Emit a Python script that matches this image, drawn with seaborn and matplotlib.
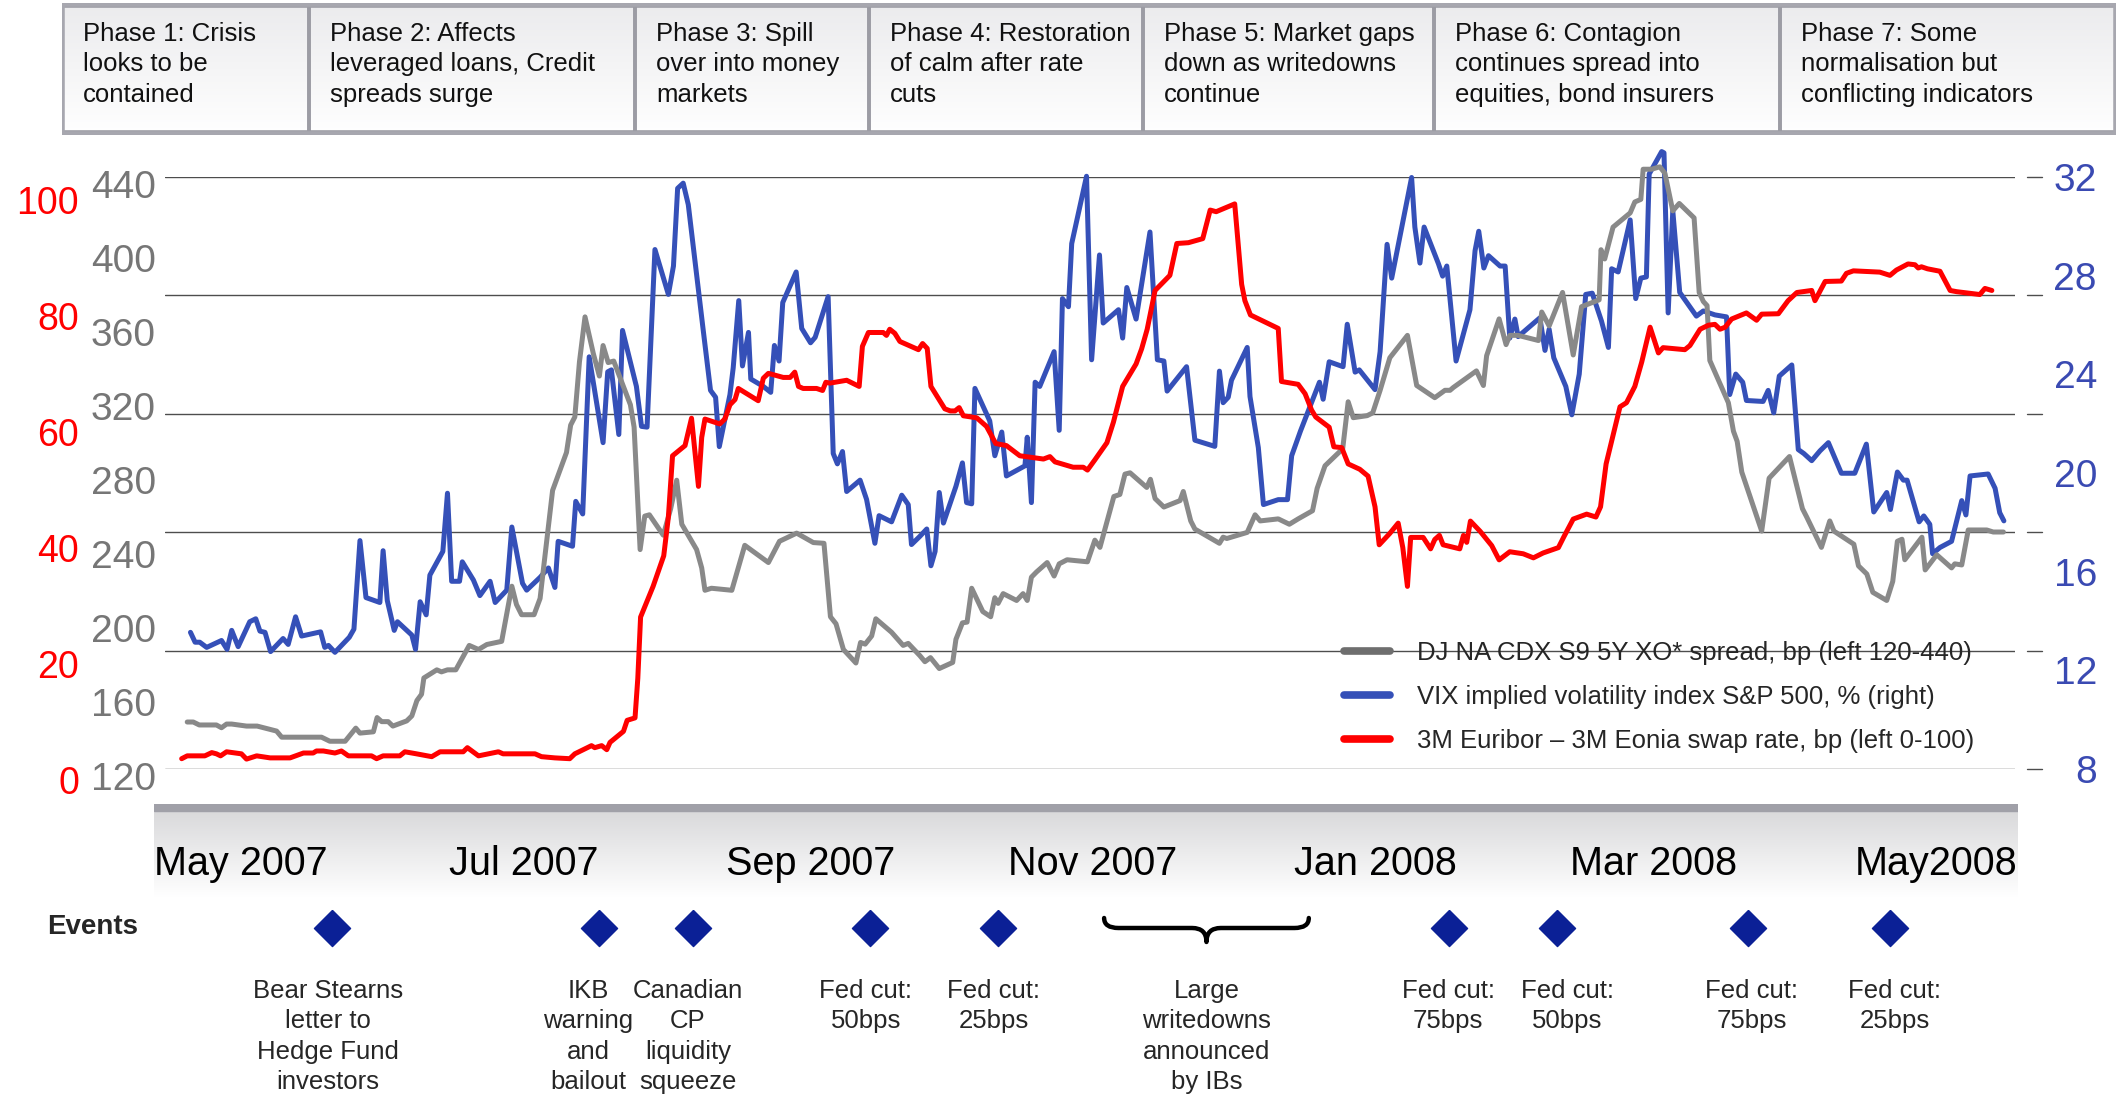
import numpy as np
import pandas as pd
import matplotlib
matplotlib.use("Agg")
import matplotlib.pyplot as plt
import matplotlib.dates as mdates
from matplotlib.lines import Line2D
from matplotlib.patches import Rectangle, PathPatch
from matplotlib.path import Path
from matplotlib.colors import LinearSegmentedColormap
from matplotlib.transforms import ScaledTranslation
import seaborn as sns

sns.set_style("white")
plt.rcParams["font.family"] = ["Liberation Sans", "DejaVu Sans"]

# x positions are days after 1 May 2007, as placed on the chart's date axis
START = pd.Timestamp("2007-05-01")

# DJ NA CDX S9 5Y XO spread, bp (left 120-440)
cdx_day = [-11.6, -10.3, -9.0, -5.3, -4.2, -3.1, -2.0, 1.2, 3.5, 7.7,
           8.8, 17.4, 19.2, 22.5, 24.8, 25.7, 28.6, 29.4, 30.4, 31.8,
           32.8, 35.8, 36.9, 38.0, 39.0, 39.5, 42.3, 43.3, 44.6, 46.4,
           49.3, 51.3, 53.1, 56.3, 58.5, 59.5, 60.6, 63.3, 64.6, 65.3,
           67.3, 70.3, 71.2, 72.1, 73.1, 74.3, 76.1, 77.4, 78.2, 79.3,
           80.5, 84.1, 84.9, 86.2, 87.2, 88.2, 91.2, 92.8, 94.1, 95.2,
           98.4, 99.5, 100.2, 101.6, 106.0, 108.8, 113.9, 116.3, 120.0, 123.6,
           125.9, 127.3, 128.5, 130.1, 132.8, 133.8, 134.8, 136.2, 137.1, 140.5,
           143.0, 144.1, 146.6, 147.7, 148.9, 150.8, 153.7, 154.4, 155.8, 156.8,
           157.8, 160.2, 161.9, 162.8, 163.5, 164.6, 167.5, 168.9, 169.8, 170.7,
           171.8, 174.1, 175.6, 176.7, 178.4, 182.8, 184.4, 185.5, 188.5, 189.8,
           190.9, 192.0, 195.6, 196.4, 197.4, 199.3, 202.8, 203.5, 205.1, 206.0,
           211.3, 212.1, 212.9, 217.3, 219.0, 220.1, 224.0, 226.4, 228.3, 231.4,
           232.4, 234.1, 237.3, 237.9, 239.1, 240.2, 243.2, 244.4, 246.0, 248.1,
           251.9, 253.9, 257.8, 260.0, 261.1, 261.8, 266.8, 268.3, 269.0, 271.7,
           273.2, 274.0, 275.8, 280.2, 280.9, 282.5, 285.4, 286.6, 287.7, 289.5,
           293.3, 293.7, 294.5, 296.3, 300.0, 301.0, 302.3, 302.8, 304.6, 306.4,
           307.5, 309.2, 310.6, 313.8, 314.9, 315.8, 316.6, 317.2, 321.2, 322.3,
           323.1, 324.1, 328.4, 330.0, 334.4, 337.2, 338.1, 341.3, 343.1, 344.0,
           348.3, 349.3, 351.1, 352.4, 355.4, 356.7, 357.7, 358.7, 359.3, 363.0,
           363.7, 366.2, 369.4, 370.1, 371.6, 373.0, 377.0, 378.4, 380.6]
cdx_bp = [145.4, 145.4, 143.8, 143.8, 142.3, 144.3, 144.3, 143.2, 143.2, 140.5,
          137.2, 137.2, 135.0, 135.0, 142.1, 139.4, 140.1, 147.8, 145.6, 145.6,
          143.2, 146.0, 148.7, 157.0, 160.4, 169.2, 173.6, 172.5, 173.6, 173.6,
          186.8, 184.6, 187.3, 189.0, 218.8, 208.9, 203.4, 203.4, 212.2, 227.6,
          270.6, 291.1, 305.9, 310.3, 340.1, 364.4, 344.5, 332.4, 348.9, 339.7,
          340.5, 316.9, 304.8, 238.6, 256.7, 257.4, 246.4, 260.7, 276.1, 252.3,
          238.6, 228.7, 216.6, 217.7, 216.6, 240.9, 231.6, 243.1, 247.5, 242.4,
          242.0, 202.3, 198.5, 184.6, 177.3, 188.4, 187.5, 191.9, 201.2, 193.9,
          186.8, 187.9, 181.3, 178.0, 180.2, 174.3, 177.6, 190.1, 199.0, 199.4,
          217.7, 205.1, 202.3, 212.6, 209.5, 214.8, 211.1, 214.8, 211.1, 223.7,
          226.5, 231.6, 224.3, 230.9, 233.1, 232.0, 243.7, 239.8, 267.3, 268.4,
          279.4, 280.1, 272.2, 276.6, 266.2, 261.6, 265.1, 270.0, 254.1, 249.7,
          242.0, 245.3, 244.6, 247.9, 257.4, 254.1, 255.2, 252.3, 255.2, 259.6,
          271.7, 283.9, 291.6, 292.7, 318.5, 309.9, 311.0, 312.5, 324.7, 342.3,
          354.4, 327.3, 320.7, 324.7, 324.7, 326.2, 335.2, 327.3, 343.4, 363.3,
          349.4, 354.4, 354.4, 351.6, 367.0, 359.5, 377.6, 359.9, 343.8, 369.9,
          373.6, 400.7, 395.7, 412.9, 420.6, 426.5, 427.9, 444.2, 444.2, 445.5,
          442.0, 421.7, 425.7, 417.9, 377.6, 372.7, 370.5, 340.8, 318.0, 302.6,
          297.1, 280.5, 248.6, 277.2, 288.9, 260.7, 256.3, 239.8, 254.1, 248.6,
          241.5, 229.8, 225.4, 215.5, 211.1, 221.4, 243.1, 244.2, 233.1, 245.3,
          227.6, 235.8, 228.7, 230.9, 230.3, 249.2, 249.2, 248.1, 248.1]

# VIX implied volatility index S&P 500, % (right)
vix_day = [-10.9, -9.9, -8.9, -7.4, -4.2, -3.0, -2.0, -0.6, 1.9, 3.2,
           4.1, 5.2, 6.4, 9.1, 10.2, 11.8, 13.1, 17.2, 18.1, 18.9,
           20.3, 23.4, 24.4, 25.7, 27.0, 30.0, 30.7, 31.6, 33.1, 33.8,
           36.9, 37.7, 38.7, 40.0, 40.8, 43.6, 44.6, 45.5, 47.2, 47.8,
           50.2, 51.6, 53.8, 54.9, 57.4, 58.5, 60.8, 61.7, 64.6, 66.4,
           67.8, 68.5, 71.6, 72.3, 73.8, 75.2, 76.8, 78.2, 79.2, 80.0,
           81.6, 82.4, 85.4, 86.5, 87.7, 89.4, 92.3, 93.4, 94.3, 95.5,
           96.6, 99.8, 101.4, 102.5, 103.3, 105.6, 106.3, 107.5, 108.3, 109.6,
           110.1, 112.8, 114.4, 115.2, 116.2, 117.0, 119.9, 121.1, 123.0, 124.0,
           126.8, 127.9, 128.8, 129.9, 130.8, 133.7, 135.1, 136.9, 137.8, 140.5,
           142.7, 144.1, 144.8, 146.6, 148.1, 149.0, 149.9, 150.8, 151.7, 154.4,
           155.8, 156.7, 157.8, 158.5, 161.7, 162.8, 164.3, 165.3, 169.3, 169.8,
           170.7, 171.5, 172.5, 175.6, 176.7, 177.4, 178.7, 179.4, 182.6, 183.7,
           185.4, 186.2, 189.5, 190.4, 191.3, 193.3, 196.3, 197.9, 199.3, 200.0,
           204.2, 206.0, 210.3, 211.3, 212.1, 213.2, 213.9, 217.3, 217.9, 219.7,
           220.8, 224.0, 226.0, 226.9, 228.8, 231.6, 232.9, 233.7, 235.0, 238.0,
           238.9, 240.6, 241.5, 244.9, 246.0, 247.5, 248.5, 252.8, 253.5, 254.6,
           255.5, 258.6, 259.5, 260.4, 262.4, 265.4, 266.5, 267.3, 268.4, 269.4,
           271.9, 273.0, 274.0, 275.1, 275.8, 280.5, 281.6, 282.5, 283.5, 286.1,
           287.4, 289.0, 290.4, 291.8, 293.8, 295.3, 296.0, 297.4, 300.0, 301.2,
           302.3, 303.5, 304.1, 306.8, 307.3, 308.2, 309.2, 310.7, 314.3, 315.8,
           318.3, 320.8, 321.5, 322.8, 324.3, 325.1, 328.7, 329.8, 331.0, 332.2,
           334.9, 336.3, 337.5, 339.2, 341.0, 342.8, 345.6, 348.5, 351.0, 352.6,
           355.4, 356.2, 357.7, 359.0, 359.8, 362.4, 363.4, 364.7, 365.3, 366.9,
           369.4, 371.6, 372.5, 373.4, 377.3, 378.8, 379.8, 380.7]
vix_pct = [13.54, 13.14, 13.14, 12.93, 13.21, 12.85, 13.62, 12.96, 13.97, 14.09,
           13.59, 13.54, 12.76, 13.29, 13.05, 14.17, 13.39, 13.56, 12.93, 13.01,
           12.73, 13.34, 13.67, 17.26, 14.95, 14.75, 16.85, 14.83, 13.62, 13.97,
           13.43, 12.85, 14.78, 14.25, 15.86, 16.82, 19.18, 15.61, 15.61, 16.40,
           15.66, 15.03, 15.61, 14.75, 15.25, 17.81, 15.53, 15.25, 15.77, 16.15,
           15.36, 17.23, 17.03, 18.85, 18.34, 24.71, 22.85, 21.23, 24.10, 24.18,
           21.56, 25.78, 23.51, 21.89, 21.86, 29.06, 27.24, 28.39, 31.54, 31.75,
           30.88, 25.83, 23.35, 23.07, 21.07, 23.18, 24.26, 26.99, 24.34, 25.70,
           23.81, 23.51, 23.27, 25.17, 24.54, 26.91, 28.15, 25.86, 25.28, 25.50,
           27.15, 20.79, 20.37, 20.87, 19.25, 19.71, 18.93, 17.15, 18.27, 18.02,
           19.10, 18.72, 17.10, 17.43, 17.73, 16.24, 16.82, 19.21, 17.97, 19.46,
           20.41, 18.80, 18.75, 23.43, 22.11, 20.70, 21.66, 19.88, 20.29, 21.45,
           18.80, 23.68, 23.51, 24.92, 21.73, 27.07, 26.74, 29.30, 32.03, 24.59,
           28.84, 26.08, 26.62, 25.47, 27.52, 26.24, 29.77, 24.59, 24.54, 23.32,
           24.31, 21.33, 21.08, 24.13, 22.85, 23.07, 23.76, 25.09, 23.10, 21.03,
           18.72, 18.92, 18.92, 20.70, 21.70, 23.05, 23.68, 22.99, 24.51, 24.31,
           26.03, 24.09, 24.18, 23.38, 24.92, 29.27, 27.90, 31.98, 29.97, 28.51,
           29.97, 28.48, 27.98, 28.39, 24.54, 26.62, 29.01, 29.80, 28.31, 28.81,
           28.39, 28.39, 25.47, 26.24, 25.53, 26.29, 24.97, 25.83, 24.67, 23.51,
           22.36, 24.01, 27.24, 27.29, 26.16, 25.09, 28.28, 28.15, 30.26, 27.07,
           27.90, 27.95, 32.12, 33.03, 32.98, 26.49, 30.63, 27.32, 26.36, 26.57,
           26.41, 26.33, 23.18, 24.01, 23.68, 22.94, 22.90, 23.35, 22.44, 23.93,
           24.38, 20.95, 20.79, 20.50, 20.90, 21.23, 19.99, 19.99, 21.17, 18.42,
           19.21, 18.52, 20.04, 19.71, 19.71, 18.02, 18.26, 17.92, 16.73, 16.98,
           17.23, 18.88, 18.30, 19.88, 19.96, 19.38, 18.39, 18.06]

# 3M Euribor - 3M Eonia swap rate, bp (left 0-100)
eur_day = [-12.8, -11.6, -7.8, -6.3, -5.3, -4.4, -3.1, 0.1, 1.2, 3.4,
           6.3, 10.6, 13.5, 15.6, 16.3, 17.8, 20.3, 21.7, 23.2, 28.2,
           29.3, 30.7, 34.3, 35.4, 37.9, 41.2, 43.0, 48.0, 48.9, 51.3,
           55.6, 56.6, 63.5, 64.9, 67.8, 71.0, 72.1, 75.7, 76.4, 77.9,
           79.0, 79.7, 82.6, 83.4, 85.1, 85.7, 86.3, 89.0, 91.3, 92.3,
           93.2, 95.9, 97.3, 98.8, 99.5, 100.2, 103.4, 104.5, 105.6, 106.7,
           107.4, 111.7, 112.8, 113.9, 117.1, 118.6, 119.6, 120.4, 121.4, 124.3,
           125.6, 126.3, 127.2, 130.8, 133.5, 134.2, 135.5, 138.7, 139.4, 140.1,
           141.2, 142.3, 146.3, 147.2, 148.2, 149.0, 152.0, 153.2, 154.2, 155.1,
           156.0, 158.9, 161.0, 163.0, 165.3, 168.2, 173.3, 174.7, 175.8, 179.7,
           181.9, 182.8, 184.4, 187.0, 188.4, 190.4, 193.3, 194.5, 195.7, 197.4,
           200.6, 202.1, 204.6, 207.7, 209.3, 210.6, 214.6, 216.1, 216.8, 218.0,
           224.0, 224.7, 228.3, 229.8, 231.2, 232.1, 235.0, 236.0, 237.7, 239.1,
           241.6, 243.4, 244.9, 245.8, 248.1, 249.9, 250.9, 251.9, 252.6, 255.3,
           256.9, 257.8, 258.8, 259.6, 263.2, 264.0, 264.7, 265.5, 267.6, 270.1,
           271.7, 274.0, 276.9, 279.1, 281.2, 284.5, 285.7, 287.7, 290.6, 292.6,
           293.6, 294.8, 297.8, 299.2, 301.0, 302.5, 304.3, 305.3, 306.1, 307.1,
           311.8, 312.9, 315.1, 316.9, 318.3, 319.4, 320.5, 321.9, 325.1, 327.3,
           328.4, 332.0, 334.1, 336.0, 339.2, 339.9, 342.1, 345.6, 346.7, 348.2,
           353.9, 356.1, 357.5, 360.0, 361.5, 362.2, 362.9, 364.2, 366.9, 369.1,
           370.5, 375.5, 376.6, 378.1]
eur_bp = [3.67, 4.16, 4.16, 4.72, 4.51, 4.16, 4.86, 4.51, 3.60, 4.16,
          3.81, 3.81, 4.65, 4.65, 5.00, 5.00, 4.65, 5.00, 4.16, 4.16,
          3.67, 4.16, 4.16, 4.86, 4.51, 4.02, 4.86, 4.86, 5.57, 4.16,
          4.86, 4.51, 4.51, 4.02, 3.81, 3.67, 4.51, 5.92, 5.57, 5.92,
          5.22, 6.48, 8.38, 10.28, 10.70, 17.52, 28.07, 33.35, 38.62, 45.30,
          55.85, 57.61, 62.32, 50.58, 59.01, 62.18, 61.34, 62.18, 64.64, 65.55,
          67.45, 65.34, 69.21, 70.05, 69.35, 69.35, 70.26, 67.80, 67.45, 67.45,
          67.10, 68.51, 68.37, 68.86, 67.80, 74.70, 77.09, 77.09, 76.59, 77.65,
          76.95, 75.54, 74.13, 75.19, 74.34, 67.80, 63.94, 63.58, 63.58, 64.15,
          62.74, 62.39, 60.91, 57.96, 57.61, 55.85, 55.29, 55.71, 54.80, 53.88,
          53.88, 53.39, 55.15, 58.10, 61.62, 67.80, 71.67, 74.27, 77.65, 84.33,
          86.93, 92.42, 92.56, 93.26, 98.18, 97.90, 99.24, 85.38, 82.57, 80.11,
          77.79, 68.65, 68.16, 66.54, 63.73, 62.53, 60.77, 57.40, 57.26, 54.45,
          53.53, 52.34, 47.06, 40.52, 42.49, 44.25, 40.03, 33.35, 41.79, 41.79,
          39.82, 41.43, 42.14, 40.52, 39.82, 42.14, 40.94, 44.60, 42.84, 40.38,
          37.92, 39.32, 38.97, 38.27, 39.11, 40.03, 41.93, 44.95, 45.80, 45.30,
          47.06, 54.45, 64.29, 64.99, 67.80, 72.02, 78.00, 75.54, 73.57, 74.48,
          74.13, 74.84, 77.65, 78.35, 78.49, 77.65, 78.00, 79.41, 80.46, 79.20,
          80.25, 80.32, 82.57, 83.98, 84.33, 82.57, 85.88, 85.95, 87.28, 87.71,
          87.49, 86.93, 87.85, 88.90, 88.76, 88.20, 88.41, 88.06, 87.64, 84.33,
          84.12, 83.63, 84.68, 84.33]

series_labels = ["DJ NA CDX S9 5Y XO* spread, bp (left 120-440)",
                 "VIX implied volatility index S&P 500, % (right)",
                 "3M Euribor \u2013 3M Eonia swap rate, bp (left 0-100)"]

cdx_ticks = [120, 160, 200, 240, 280, 320, 360, 400, 440]
vix_ticks = [8, 12, 16, 20, 24, 28, 32]
eur_ticks = [0, 20, 40, 60, 80, 100]

month_ticks = ["2007-05-01", "2007-07-01", "2007-09-01", "2007-11-01",
               "2008-01-01", "2008-03-01", "2008-05-01"]
month_labels = ["May 2007", "Jul 2007", "Sep 2007", "Nov 2007",
                "Jan 2008", "Mar 2008", "May2008"]

phase_labels = ["Phase 1: Crisis\nlooks to be\ncontained",
                "Phase 2: Affects\nleveraged loans, Credit\nspreads surge",
                "Phase 3: Spill\nover into money\nmarkets",
                "Phase 4: Restoration\nof calm after rate\ncuts",
                "Phase 5: Market gaps\ndown as writedowns\ncontinue",
                "Phase 6: Contagion\ncontinues spread into\nequities, bond insurers",
                "Phase 7: Some\nnormalisation but\nconflicting indicators"]

event_day = [19.7, 77.4, 97.6, 135.8, 163.4, 260.9, 284.2, 325.4, 356.1]
event_labels = ["Bear Stearns\nletter to\nHedge Fund\ninvestors",
                "IKB\nwarning\nand\nbailout",
                "Canadian\nCP\nliquidity\nsqueeze",
                "Fed cut:\n50bps", "Fed cut:\n25bps",
                "Fed cut:\n75bps", "Fed cut:\n50bps",
                "Fed cut:\n75bps", "Fed cut:\n25bps"]
writedown_span = [186.4, 230.6]
writedown_label = "Large\nwritedowns\nannounced\nby IBs"

# colours
GRAY_LINE, BLUE_LINE, RED_LINE = "#898989", "#3550b8", "#ff0000"
GRAY_TXT, BLUE_TXT = "#767676", "#3a4ab2"
NAVY = "#0b2096"

# layout in output pixels
W, H = 2123, 1097
phase_edges = [62, 309, 635, 869, 1143, 1434, 1780, 2116]
event_dx = [-4, -11, -5, -4, -4, -1, 10, 4, 5]


def rect(x0, y0, x1, y1):
    return [x0 / W, 1 - y1 / H, (x1 - x0) / W, (y1 - y0) / H]


def to_dates(days):
    return START + pd.to_timedelta(np.asarray(days, dtype=float), unit="D")


def to_num(days):
    return mdates.date2num(to_dates(days).to_pydatetime())


fig = plt.figure(figsize=(W / 100, H / 100), dpi=100)
x_lim = (START + pd.Timedelta(days=-16.4), START + pd.Timedelta(days=383.1))

# grey band under the date labels
band = fig.add_axes(rect(154, 804, 2018, 897))
band.imshow(np.linspace(0, 1, 256)[:, None], aspect="auto", extent=[0, 1, 0, 1],
            cmap=LinearSegmentedColormap.from_list("band", ["#d6d6d8", "#ffffff"]))
band.add_patch(Rectangle((0, 1 - 7 / 93), 1, 7 / 93, color="#a0a0a8",
                         transform=band.transAxes))
band.set_xlim(0, 1)
band.set_ylim(0, 1)
band.axis("off")

# phase header
head = fig.add_axes(rect(62, 3, 2116, 135))
head.imshow(np.linspace(0, 1, 256)[:, None], aspect="auto", extent=[62, 2116, 135, 3],
            cmap=LinearSegmentedColormap.from_list("head", ["#ebebed", "#ffffff"]))
head.set_xlim(62, 2116)
head.set_ylim(135, 3)
head.axis("off")
for i, lab in enumerate(phase_labels):
    x0, x1 = phase_edges[i], phase_edges[i + 1]
    head.add_patch(Rectangle((x0, 6), x1 - x0, 126, fill=False, ec="#9c9ca4", lw=2.6))
    head.text(x0 + 21, 22, lab, ha="left", va="top", fontsize=18.5,
              linespacing=1.34, color="#111111")
head.add_patch(Rectangle((62, 4), 2054, 130, fill=False, ec="#a7a7af", lw=4))

# three value axes on the same dates
ax_vix = fig.add_axes(rect(165, 177, 2015, 769))
ax_cdx = fig.add_axes(rect(165, 177, 2015, 769))
ax_eur = fig.add_axes(rect(165, 199.5, 2015, 780))
ax_cdx.patch.set_visible(False)
ax_eur.patch.set_visible(False)

sns.lineplot(x=to_dates(vix_day), y=vix_pct, ax=ax_vix, color=BLUE_LINE,
             linewidth=3.6, estimator=None, sort=False)
sns.lineplot(x=to_dates(cdx_day), y=cdx_bp, ax=ax_cdx, color=GRAY_LINE,
             linewidth=3.6, estimator=None, sort=False)
sns.lineplot(x=to_dates(eur_day), y=eur_bp, ax=ax_eur, color=RED_LINE,
             linewidth=3.6, estimator=None, sort=False)

for ax in (ax_vix, ax_cdx, ax_eur):
    ax.set_xlim(*x_lim)
    ax.set_xlabel("")
    ax.set_ylabel("")
    for s in ax.spines.values():
        s.set_visible(False)
    for ln in ax.lines:
        ln.set_clip_on(False)
        ln.set_solid_joinstyle("round")
        ln.set_solid_capstyle("round")

ax_vix.set_ylim(8, 32)
ax_cdx.set_ylim(120, 440)
ax_eur.set_ylim(0, 100)

# gridlines with the short dashes beyond the right edge
for v in np.linspace(8, 32, 6):
    ax_vix.axhline(v, color="#4d4d4d", lw=1.0, zorder=0)
    ax_vix.axhline(v, xmin=1.0065, xmax=1.0146, color="#4d4d4d", lw=1.0, clip_on=False)

# right axis: VIX
ax_vix.yaxis.tick_right()
ax_vix.set_yticks(vix_ticks)
ax_vix.tick_params(axis="y", length=0, pad=59, labelsize=28, labelcolor=BLUE_TXT)
for t in ax_vix.get_yticklabels():
    t.set_ha("right")

# date labels
ax_vix.set_xticks(pd.to_datetime(month_ticks))
ax_vix.set_xticklabels(month_labels)
ax_vix.tick_params(axis="x", length=0, pad=55, labelsize=28.5, labelcolor="#000000")

# left axes: CDX and Euribor-Eonia
ax_cdx.set_yticks(cdx_ticks)
ax_cdx.tick_params(axis="y", length=0, pad=6.5, labelsize=28, labelcolor=GRAY_TXT)
ax_cdx.xaxis.set_visible(False)
shift = ScaledTranslation(0, -7 / 100, fig.dpi_scale_trans)
for t in ax_cdx.get_yticklabels():
    t.set_transform(t.get_transform() + shift)

ax_eur.set_yticks(eur_ticks)
ax_eur.tick_params(axis="y", length=0, pad=62, labelsize=27, labelcolor=RED_LINE)
ax_eur.xaxis.set_visible(False)

# legend
handles = [Line2D([], [], color="#6e6e6e", lw=5.5),
           Line2D([], [], color=BLUE_LINE, lw=5.5),
           Line2D([], [], color=RED_LINE, lw=5.5)]
fig.legend(handles, series_labels, loc="upper left",
           bbox_to_anchor=(1344 / W, 1 - 641 / H), frameon=False, fontsize=18.5,
           handlelength=1.8, handletextpad=1.05, labelspacing=0.78,
           borderpad=0, borderaxespad=0)

# events row
ax_ev = fig.add_axes(rect(165, 897, 2015, 1097))
diamond = [(0, 1), (1, 0), (0, -1), (-1, 0), (0, 1)]
ax_ev.plot(to_num(event_day), np.full(len(event_day), 31), ls="none",
           marker=diamond, ms=26, color=NAVY)
ax_ev.set_xlim(mdates.date2num(x_lim[0].to_pydatetime()),
               mdates.date2num(x_lim[1].to_pydatetime()))
ax_ev.set_ylim(200, 0)
ax_ev.axis("off")

for xn, lab, dx in zip(to_num(event_day), event_labels, event_dx):
    ax_ev.text(xn, 82, lab, ha="center", va="top", fontsize=18.5, linespacing=1.34,
               transform=ax_ev.transData + ScaledTranslation(dx / 100, 0, fig.dpi_scale_trans))

# curly brace for the writedowns period
x0, x1 = to_num(writedown_span)
xm = (x0 + x1) / 2
d = (x1 - x0) * 0.07
verts = [(x0, 21), (x0, 31), (x0 + d, 31),
         (xm - d, 31),
         (xm, 31), (xm, 45),
         (xm, 31), (xm + d, 31),
         (x1 - d, 31),
         (x1, 31), (x1, 21)]
codes = [Path.MOVETO, Path.CURVE3, Path.CURVE3,
         Path.LINETO,
         Path.CURVE3, Path.CURVE3,
         Path.CURVE3, Path.CURVE3,
         Path.LINETO,
         Path.CURVE3, Path.CURVE3]
ax_ev.add_patch(PathPatch(Path(verts, codes), fill=False, lw=3.2, ec="#000000",
                          capstyle="round", joinstyle="round"))
ax_ev.text(xm, 82, writedown_label, ha="center", va="top", fontsize=18.5, linespacing=1.34)

fig.text(47 / W, 1 - 927 / H, "Events", ha="left", va="center", fontsize=20,
         fontweight="bold")

fig.savefig("out.png", dpi=100)
